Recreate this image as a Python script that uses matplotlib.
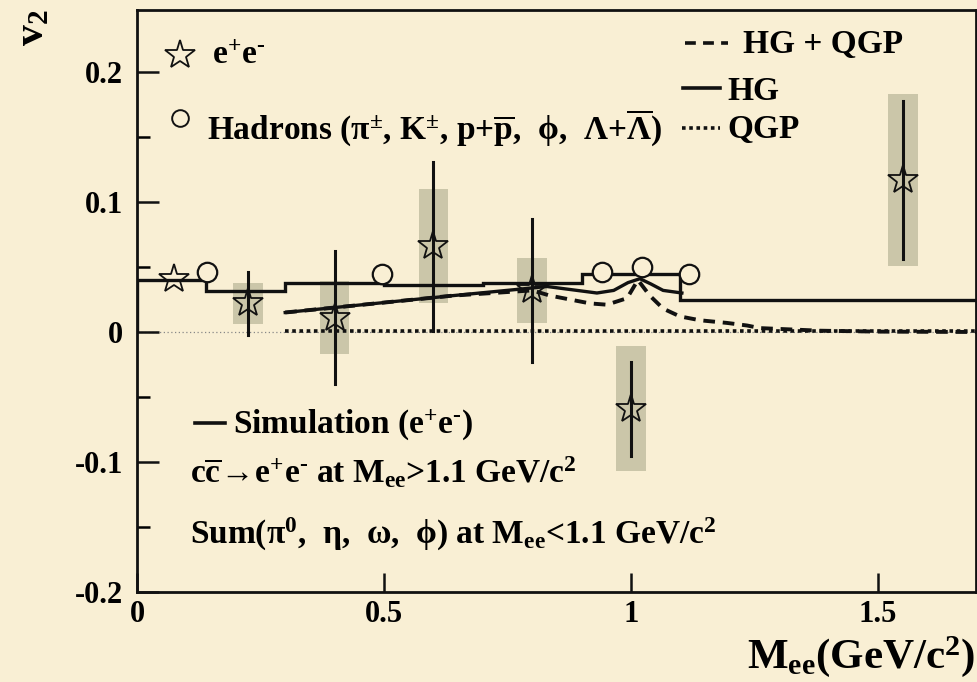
import numpy as np
import matplotlib
matplotlib.use("Agg")
import matplotlib.pyplot as plt
from matplotlib.patches import Rectangle

plt.rcParams['font.family'] = ['Liberation Serif', 'DejaVu Serif']
plt.rcParams['font.weight'] = 'bold'
plt.rcParams['mathtext.fontset'] = 'custom'
plt.rcParams['mathtext.rm'] = 'Liberation Serif:bold'
plt.rcParams['mathtext.it'] = 'Liberation Serif:bold'
plt.rcParams['mathtext.bf'] = 'Liberation Serif:bold'

# e+e- v2 measurement (stars): mass, v2, stat error, syst error
ee_mass = [0.075, 0.225, 0.40, 0.60, 0.80, 1.00, 1.55]
ee_v2 = [0.041, 0.022, 0.011, 0.066, 0.032, -0.059, 0.117]
ee_stat = [0.0, 0.024, 0.051, 0.065, 0.055, 0.036, 0.061]
ee_syst = [0.0, 0.016, 0.028, 0.044, 0.025, 0.048, 0.066]

# hadron v2 at the meson masses (circles)
had_mass = [0.142, 0.496, 0.941, 1.022, 1.117]
had_v2 = [0.046, 0.045, 0.046, 0.050, 0.045]

# simulated e+e- v2, histogram bins
sim_edges = [0.0, 0.14, 0.30, 0.50, 0.70, 0.90, 1.10, 1.70]
sim_v2 = [0.040, 0.0315, 0.0377, 0.036, 0.038, 0.0446, 0.0246]

# model curves
hg_mass = [0.30, 0.457, 0.64, 0.83, 0.911, 0.931, 0.965, 0.994, 1.018, 1.04, 1.065, 1.103]
hg_v2 = [0.015, 0.021, 0.028, 0.035, 0.031, 0.030, 0.032, 0.038, 0.041, 0.037, 0.032, 0.030]

hgqgp_mass = [0.30, 0.457, 0.64, 0.80, 0.836, 0.917, 0.951, 0.992, 1.014, 1.038, 1.065,
              1.099, 1.14, 1.194, 1.235, 1.261, 1.383, 1.50, 1.70]
hgqgp_v2 = [0.015, 0.021, 0.028, 0.032, 0.028, 0.022, 0.021, 0.026, 0.040, 0.028, 0.018,
            0.012, 0.009, 0.007, 0.005, 0.003, 0.001, 0.0003, 0.0]

qgp_mass = [0.30, 1.70]
qgp_v2 = [0.0005, 0.0005]

paper = '#f9efd4'
box_color = '#cbc6a9'
ink = '#111111'
fs = 24
ee = r'e$^{+}$e$^{‐}$'

fig = plt.figure(figsize=(9.78, 6.82), dpi=100, facecolor=paper)
ax = fig.add_axes([137 / 978, 90 / 682, 839 / 978, 582 / 682], facecolor=paper)
ax.set_xlim(0, 839 / 494)
ax.set_ylim(-0.2, 0.2477)

# zero line
ax.axhline(0, color='#888888', lw=0.9, ls=(0, (1, 2)), zorder=1)

# systematic boxes + stat bars for e+e-
for m, v, st, sy in zip(ee_mass, ee_v2, ee_stat, ee_syst):
    if sy > 0:
        ax.add_patch(Rectangle((m - 0.03, v - sy), 0.06, 2 * sy,
                               facecolor=box_color, edgecolor='none', zorder=2))
    if st > 0:
        ax.plot([m, m], [v - st, v + st], color=ink, lw=2.2, zorder=3)

# simulation histogram
ax.stairs(sim_v2, sim_edges, color=ink, lw=2.4, zorder=4)

# models
ax.plot(qgp_mass, qgp_v2, color=ink, lw=2.6, dashes=(1, 1), zorder=4)
ax.plot(hg_mass, hg_v2, color=ink, lw=2.4, zorder=4)
ax.plot(hgqgp_mass, hgqgp_v2, color=ink, lw=2.8, dashes=(3, 2), zorder=4)

# data points
ax.plot(ee_mass, ee_v2, ls='none', marker='*', ms=22, mfc='none', mec=ink,
        mew=1.3, zorder=5)
ax.plot(had_mass, had_v2, ls='none', marker='o', ms=14, mfc=paper, mec=ink,
        mew=1.6, zorder=5)

# legend, top left
ax.plot([0.087], [0.213], marker='*', ms=22, mfc='none', mec=ink, mew=1.3)
ax.text(0.152, 0.213, ee, fontsize=fs, va='center')
ax.plot([0.087], [0.165], marker='o', ms=12, mfc='none', mec=ink, mew=1.4)
ax.text(0.142, 0.157,
        r'Hadrons (π$^{\pm}$, K$^{\pm}$, p+$\overline{\mathrm{p}}$,  ϕ,  Λ+$\overline{\mathrm{\Lambda}}$)',
        fontsize=fs, va='center')

# legend, top right
ax.plot([1.109, 1.196], [0.222, 0.222], color=ink, lw=2.6, dashes=(3, 2))
ax.text(1.227, 0.2215, 'HG + QGP', fontsize=fs, va='center')
ax.plot([1.105, 1.180], [0.188, 0.188], color=ink, lw=2.6)
ax.text(1.196, 0.185, 'HG', fontsize=fs, va='center')
ax.plot([1.103, 1.180], [0.157, 0.157], color=ink, lw=2.6, dashes=(1, 1))
ax.text(1.196, 0.156, 'QGP', fontsize=fs, va='center')

# simulation notes
ax.plot([0.117, 0.178], [-0.070, -0.070], color=ink, lw=2.6)
ax.text(0.194, -0.0715, 'Simulation (' + ee + ')', fontsize=fs, va='center')
ax.text(0.107, -0.108,
        r'c$\overline{\mathrm{c}}\!\rightarrow\!$' + ee
        + r' at M$_{\mathrm{ee}}$>1.1 GeV/c$^{2}$',
        fontsize=fs, va='center')
ax.text(0.107, -0.156,
        r'Sum(π$^{0}$,  η,  ω,  ϕ) at M$_{\mathrm{ee}}$<1.1 GeV/c$^{2}$',
        fontsize=fs, va='center')

# axes styling
for side in ['left', 'bottom', 'top', 'right']:
    ax.spines[side].set_linewidth(2.0)
    ax.spines[side].set_color(ink)

ax.set_xticks([0, 0.5, 1, 1.5])
ax.set_xticklabels(['0', '0.5', '1', '1.5'])
ax.set_yticks([-0.2, -0.1, 0, 0.1, 0.2])
ax.set_yticklabels(['-0.2', '-0.1', '0', '0.1', '0.2'])
ax.set_yticks(np.arange(-0.15, 0.2, 0.1), minor=True)
ax.tick_params(axis='both', which='major', direction='in', labelsize=22, width=1.8,
               color=ink)
ax.tick_params(axis='y', which='major', length=16, pad=10)
ax.tick_params(axis='y', which='minor', direction='in', length=9, width=1.8)
ax.tick_params(axis='x', which='major', length=14, pad=6)
for lab in ax.get_xticklabels() + ax.get_yticklabels():
    lab.set_fontweight('bold')

fig.text(0.034, 0.960, r'v$_{2}$', rotation=90, fontsize=30, ha='center', va='center')
fig.text(0.997, 0.037, r'M$_{\mathrm{ee}}$(GeV/c$^{2}$)', fontsize=31, ha='right',
         va='center')

fig.savefig('out.png', dpi=100, facecolor=paper)
